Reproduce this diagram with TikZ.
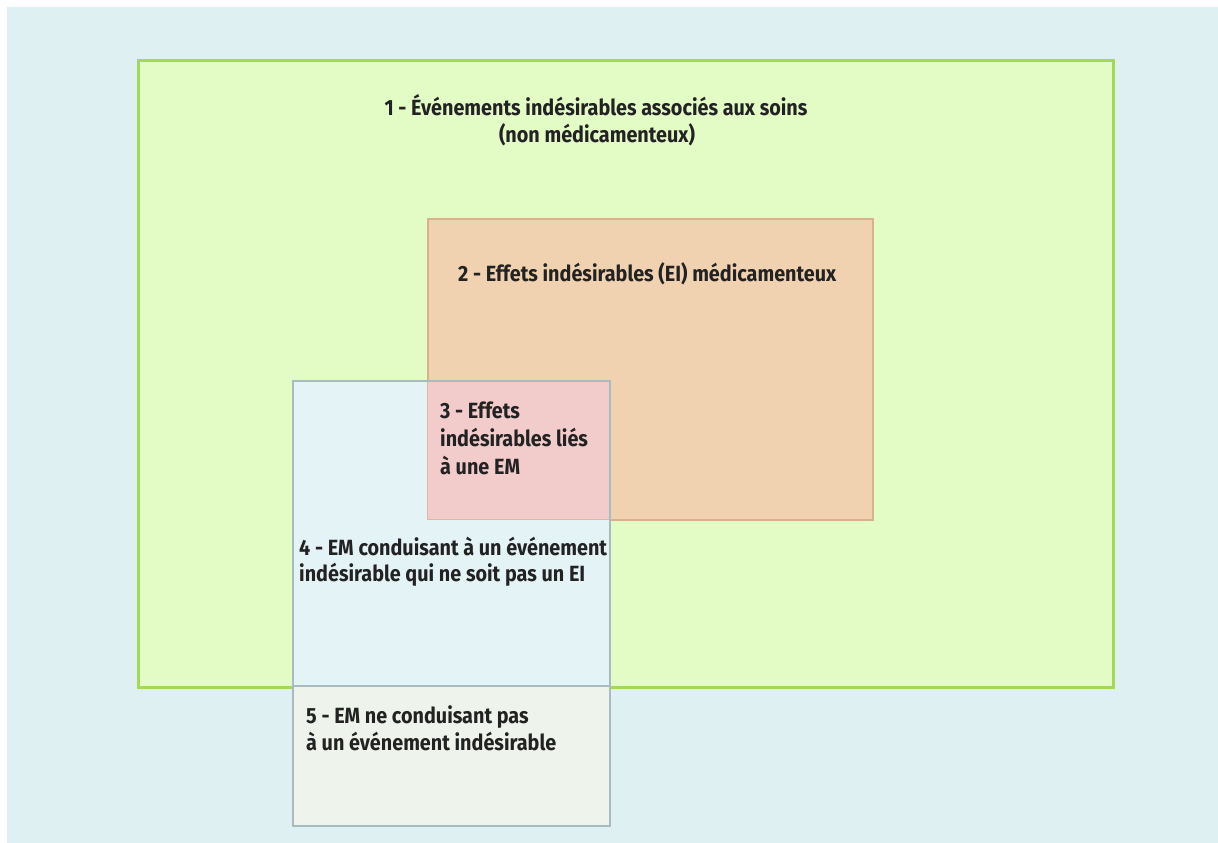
\documentclass[tikz,border=0pt]{standalone}
\usepackage{fontspec}
\setmainfont{Fira Sans}[FakeStretch=0.9]
\definecolor{bg}{HTML}{DFF0F3}
\definecolor{gfill}{HTML}{E3FBC5}
\definecolor{gline}{HTML}{A3D955}
\definecolor{ofill}{HTML}{F0D2B1}
\definecolor{oline}{HTML}{D6B28E}
\definecolor{pfill}{HTML}{F2CCCB}
\definecolor{bfill}{HTML}{E4F3F5}
\definecolor{lfill}{HTML}{EEF3EB}
\definecolor{bline}{HTML}{A8BBBE}
\definecolor{txt}{HTML}{222222}
\tikzset{
  lbl/.style={inner sep=0pt, text=txt, font=\fontsize{22}{26}\selectfont\bfseries},
}
\begin{document}
\begin{tikzpicture}[x=1pt,y=-1pt]
\useasboundingbox (0,0) rectangle (1218,843);
\fill[white] (0,0) rectangle (1218,843);
\fill[bg] (7,7) rectangle (1218,843);
% 1 - green box
\node[draw=gline, line width=3pt, fill=gfill, minimum width=975pt, minimum height=627pt, inner sep=0pt, anchor=north west] (green) at (137,59) {};
% 2 - orange box
\node[draw=oline, line width=1.5pt, fill=ofill, minimum width=445pt, minimum height=301pt, inner sep=0pt, anchor=north west] (orange) at (427,218) {};
% 4/5 - blue box
\fill[bfill] (292,380) rectangle (609,686);
\fill[lfill] (292,686) rectangle (609,825);
\fill[pfill] (427,380) rectangle (609,519);
\draw[oline!70!pfill, line width=1pt] (427,380) -- (427,519) -- (609,519);
\draw[bline, line width=1.2pt] (292,686) -- (609,686);
\node[draw=bline, line width=2pt, minimum width=317pt, minimum height=445pt, inner sep=0pt, anchor=north west] (blue) at (292,380) {};
% texts
\node[lbl, anchor=base] (t1a) at (596,115) {1 - Événements indésirables associés aux soins};
\node[lbl, anchor=base] (t1b) at (597,142) {(non médicamenteux)};
\node[lbl, anchor=base west] (t2) at (458,281) {2 - Effets indésirables (EI) médicamenteux};
\node[lbl, anchor=base west] (t3a) at (440,418) {3 - Effets};
\node[lbl, anchor=base west] (t3b) at (440,446) {indésirables liés};
\node[lbl, anchor=base west] (t3c) at (440,474) {à une EM};
\node[lbl, anchor=base west] (t4a) at (299,555) {4 - EM conduisant à un événement};
\node[lbl, anchor=base west] (t4b) at (299,581) {indésirable qui ne soit pas un EI};
\node[lbl, anchor=base west] (t5a) at (306,723) {5 - EM ne conduisant pas};
\node[lbl, anchor=base west] (t5b) at (306,750) {à un événement indésirable};
\end{tikzpicture}
\end{document}
